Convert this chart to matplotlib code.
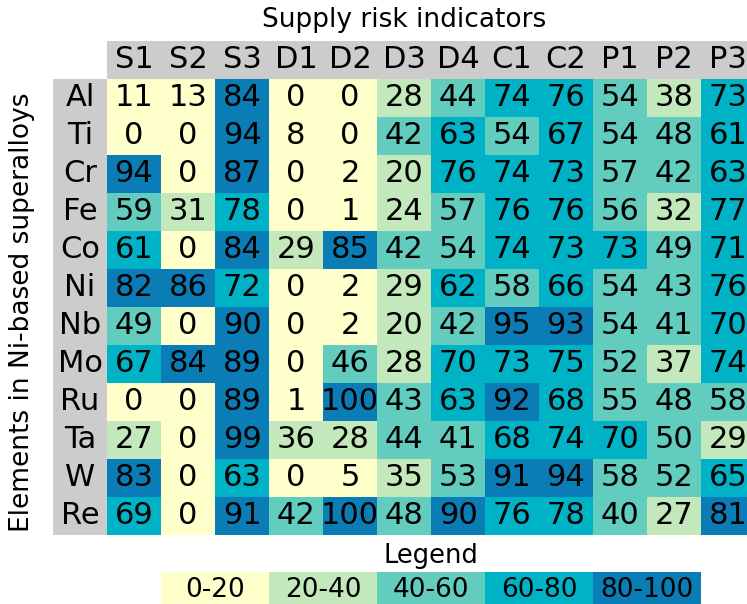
import numpy as np
import matplotlib
matplotlib.use('Agg')
import matplotlib.pyplot as plt
from matplotlib.colors import ListedColormap, BoundaryNorm
from matplotlib.patches import Rectangle

# supply risk scores, rows = elements, cols = indicators
elements = ['Al', 'Ti', 'Cr', 'Fe', 'Co', 'Ni', 'Nb', 'Mo', 'Ru', 'Ta', 'W', 'Re']
indicators = ['S1', 'S2', 'S3', 'D1', 'D2', 'D3', 'D4', 'C1', 'C2', 'P1', 'P2', 'P3']
scores = [
    [11, 13, 84, 0, 0, 28, 44, 74, 76, 54, 38, 73],
    [0, 0, 94, 8, 0, 42, 63, 54, 67, 54, 48, 61],
    [94, 0, 87, 0, 2, 20, 76, 74, 73, 57, 42, 63],
    [59, 31, 78, 0, 1, 24, 57, 76, 76, 56, 32, 77],
    [61, 0, 84, 29, 85, 42, 54, 74, 73, 73, 49, 71],
    [82, 86, 72, 0, 2, 29, 62, 58, 66, 54, 43, 76],
    [49, 0, 90, 0, 2, 20, 42, 95, 93, 54, 41, 70],
    [67, 84, 89, 0, 46, 28, 70, 73, 75, 52, 37, 74],
    [0, 0, 89, 1, 100, 43, 63, 92, 68, 55, 48, 58],
    [27, 0, 99, 36, 28, 44, 41, 68, 74, 70, 50, 29],
    [83, 0, 63, 0, 5, 35, 53, 91, 94, 58, 52, 65],
    [69, 0, 91, 42, 100, 48, 90, 76, 78, 40, 27, 81],
]
bins = [0, 20, 40, 60, 80, 101]
legend_labels = ['0-20', '20-40', '40-60', '60-80', '80-100']
legend_values = [10, 30, 50, 70, 90]

colors = ['#ffffcc', '#c2e8bb', '#62cdbe', '#00b2c6', '#0a7db6']
cmap = ListedColormap(colors)
norm = BoundaryNorm(bins, cmap.N)

data = np.array(scores)
nr, nc = data.shape

W, H = 747, 604
fig = plt.figure(figsize=(W / 100, H / 100), dpi=100)
ax = fig.add_axes([0, 0, 1, 1])
# cell size in px: 54 x 38, grid origin at (107, 79)
x0, y0, cw, ch = 107, 79, 54, 38
ax.set_xlim(-x0 / cw, (W - x0) / cw)
ax.set_ylim((H - y0) / ch, -y0 / ch)
ax.axis('off')

ax.pcolormesh(np.arange(nc + 1), np.arange(nr + 1), data, cmap=cmap, norm=norm)
for i in range(nr):
    for j in range(nc):
        ax.text(j + 0.5, i + 0.5, str(data[i, j]), ha='center', va='center',
                fontsize=22, color='black')

grey = '#cccccc'
ax.add_patch(Rectangle((0, -1), nc, 1, color=grey, lw=0))
ax.add_patch(Rectangle((-1, 0), 1, nr, color=grey, lw=0))
for j, lab in enumerate(indicators):
    ax.text(j + 0.5, -0.5, lab, ha='center', va='center', fontsize=22)
for i, lab in enumerate(elements):
    ax.text(-0.5, i + 0.5, lab, ha='center', va='center', fontsize=22)

ax.text(5.5, -1.55, 'Supply risk indicators', ha='center', va='center', fontsize=19)
ax.text(-1.58, 6.14, 'Elements in Ni-based superalloys', ha='center', va='center',
        rotation=90, fontsize=19)

# legend strip
lx = np.arange(1, 1 + 2 * len(legend_values) + 1, 2)
ax.pcolormesh(lx, [12.97, 14], np.array([legend_values]), cmap=cmap, norm=norm)
ax.text(6, 12.55, 'Legend', ha='center', va='center', fontsize=18.5)
for k, lab in enumerate(legend_labels):
    ax.text(lx[k] + 1, 13.45, lab, ha='center', va='center', fontsize=19)

fig.savefig('out.png', dpi=100)
